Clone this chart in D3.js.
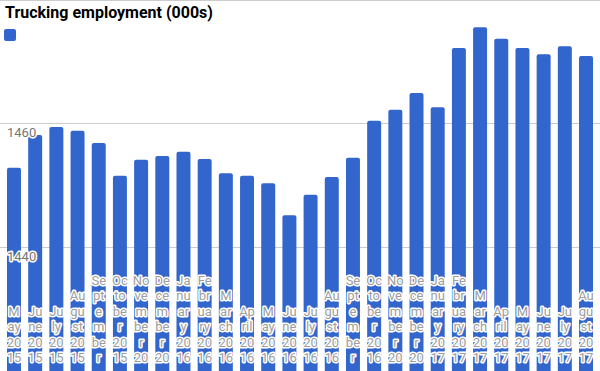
<!DOCTYPE html>
<html>
<head>
<meta charset="utf-8">
<script src="https://cdn.jsdelivr.net/npm/d3@7"></script>
<style>
  body { margin: 0; background: #fff; }
  svg { display: block; font-family: Roboto, Arial, sans-serif; }
</style>
</head>
<body>
<svg width="600" height="371"></svg>
<script>
const months = ["May 2015", "June 2015", "July 2015", "August 2015", "September 2015", "October 2015",
  "November 2015", "December 2015", "January 2016", "February 2016", "March 2016", "April 2016",
  "May 2016", "June 2016", "July 2016", "August 2016", "September 2016", "October 2016",
  "November 2016", "December 2016", "January 2017", "February 2017", "March 2017", "April 2017",
  "May 2017", "June 2017", "July 2017", "August 2017"];
const employment = [1452.8, 1458.1, 1459.4, 1458.8, 1456.8, 1451.5, 1454.1, 1454.7, 1455.4, 1454.2,
  1451.9, 1451.5, 1450.3, 1445.1, 1448.4, 1451.3, 1454.4, 1460.4, 1462.2, 1464.9, 1462.6,
  1472.2, 1475.6, 1473.7, 1472.2, 1471.2, 1472.5, 1470.9];
const yTicks = [1440, 1460, 1480];

function drawChart() {
  const svg = d3.select("svg");
  const data = months.map((m, i) => ({ month: m, value: employment[i] }));

  const x = d3.scaleBand().domain(months).range([3.4, 596.6]).paddingInner(0.34).paddingOuter(0.17);
  const y = d3.scaleLinear().domain([1420, 1480]).range([370, 0]);

  // gridlines
  svg.append("g")
    .selectAll("rect")
    .data(yTicks)
    .enter()
    .append("rect")
    .attr("x", 0)
    .attr("width", 600)
    .attr("y", (d) => Math.round(y(d)))
    .attr("height", 1)
    .attr("fill", "#cccccc");

  // bars, rounded on top, the bottom runs off the page
  svg.append("g")
    .selectAll("rect")
    .data(data)
    .enter()
    .append("rect")
    .attr("x", (d) => x(d.month))
    .attr("width", x.bandwidth())
    .attr("y", (d) => y(d.value))
    .attr("height", (d) => y(1420) - y(d.value) + 4)
    .attr("rx", 2)
    .attr("fill", "#3366cc");

  // y labels sit just under their gridline
  svg.append("g")
    .selectAll("text")
    .data(yTicks.filter((d) => d < 1480))
    .enter()
    .append("text")
    .attr("x", 7)
    .attr("y", (d) => y(d) + 14)
    .attr("font-size", 13)
    .attr("fill", "#757575")
    .attr("stroke", "#fff")
    .attr("stroke-width", 3)
    .attr("stroke-linejoin", "round")
    .attr("paint-order", "stroke")
    .text((d) => d);

  // x labels are broken into pieces that fit the bar width
  const measure = svg.append("text").attr("font-size", 13).attr("visibility", "hidden");
  function textWidth(s) {
    measure.text(s);
    return measure.node().getComputedTextLength();
  }
  function wrapLabel(label) {
    let lines = [];
    label.split(" ").forEach((word) => {
      let cur = "";
      for (const ch of word) {
        if (cur && textWidth(cur + ch) > 17) {
          lines.push(cur);
          cur = ch;
        } else {
          cur += ch;
        }
      }
      if (cur) lines.push(cur);
    });
    return lines.slice(0, 6);
  }

  const lineH = 15.5;
  const bottomBase = 362;
  const labels = svg.append("g")
    .selectAll("text")
    .data(data)
    .enter()
    .append("text")
    .attr("text-anchor", "middle")
    .attr("font-size", 13)
    .attr("fill", "#9e9e9e")
    .attr("stroke", "#fff")
    .attr("stroke-width", 3)
    .attr("stroke-linejoin", "round")
    .attr("paint-order", "stroke");
  labels.each(function (d) {
    const lines = wrapLabel(d.month);
    const cx = x(d.month) + x.bandwidth() / 2;
    d3.select(this)
      .selectAll("tspan")
      .data(lines)
      .enter()
      .append("tspan")
      .attr("x", cx)
      .attr("y", (l, i) => bottomBase - (lines.length - 1 - i) * lineH)
      .text((l) => l);
  });
  measure.remove();

  // title and legend swatch
  svg.append("text")
    .attr("x", 5)
    .attr("y", 18)
    .attr("font-size", 16)
    .attr("font-weight", "bold")
    .attr("fill", "#000")
    .text("Trucking employment (000s)");

  svg.append("rect")
    .attr("x", 4)
    .attr("y", 29)
    .attr("width", 12)
    .attr("height", 12)
    .attr("rx", 2)
    .attr("fill", "#3366cc");
}

drawChart();
</script>
</body>
</html>
